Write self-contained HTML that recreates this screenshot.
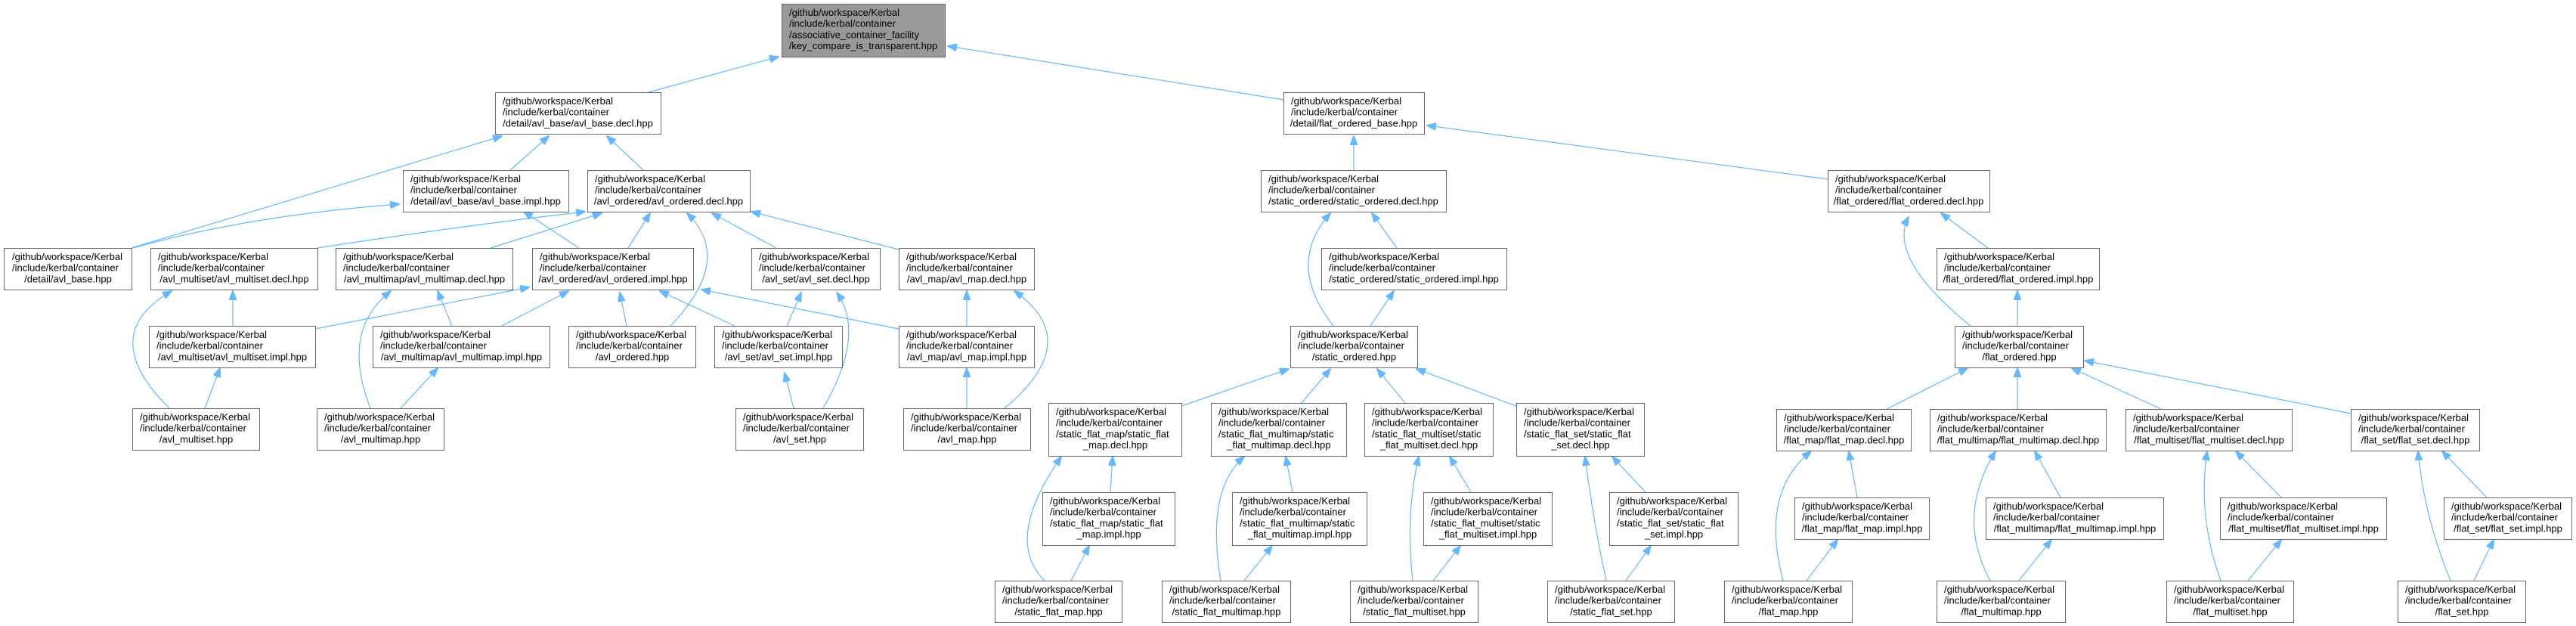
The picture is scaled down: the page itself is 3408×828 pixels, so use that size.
<!DOCTYPE html>
<html><head><meta charset="utf-8"><style>
html,body{margin:0;padding:0;background:#fff;}
svg{display:block;}
text{font-family:"Liberation Sans",Arial,sans-serif;font-size:13px;fill:#000;}
.n{fill:#fff;stroke:#666;stroke-width:1;}
.r{fill:#999;stroke:#666;stroke-width:1;}
.e{fill:none;stroke:#63b8ff;stroke-width:1.2;}
</style></head><body>
<svg width="3408" height="828" viewBox="0 0 3408 828" xmlns="http://www.w3.org/2000/svg">
<defs><marker id="a" markerUnits="userSpaceOnUse" markerWidth="13" markerHeight="10" refX="12" refY="5" orient="auto"><path d="M0,0 L13,5 L0,10 z" fill="#63b8ff" stroke="#63b8ff"/></marker></defs>
<g class="edges">
<path class="e" marker-end="url(#a)" d="M858,122 L1030,75"/>
<path class="e" marker-end="url(#a)" d="M1698,132 L1254,61"/>
<path class="e" marker-end="url(#a)" d="M174,328 L664,180"/>
<path class="e" marker-end="url(#a)" d="M675,225 L726,180"/>
<path class="e" marker-end="url(#a)" d="M851,225 L803,180"/>
<path class="e" marker-end="url(#a)" d="M176,328 Q330,285 528,270"/>
<path class="e" marker-end="url(#a)" d="M420,328 Q600,300 774,280"/>
<path class="e" marker-end="url(#a)" d="M649,328 L796,282"/>
<path class="e" marker-end="url(#a)" d="M831,328 L860,282"/>
<path class="e" marker-end="url(#a)" d="M887,431 Q972,343 909,282"/>
<path class="e" marker-end="url(#a)" d="M1027,328 L942,282"/>
<path class="e" marker-end="url(#a)" d="M1189,330 L994,280"/>
<path class="e" marker-end="url(#a)" d="M766,328 L693,280"/>
<path class="e" marker-end="url(#a)" d="M308,431 L308,385"/>
<path class="e" marker-end="url(#a)" d="M224,540 Q126,443 227,385"/>
<path class="e" marker-end="url(#a)" d="M271,540 L291,487"/>
<path class="e" marker-end="url(#a)" d="M598,431 L579,385"/>
<path class="e" marker-end="url(#a)" d="M490,540 Q450,437 517,385"/>
<path class="e" marker-end="url(#a)" d="M530,540 L579,487"/>
<path class="e" marker-end="url(#a)" d="M417,435 L700,380"/>
<path class="e" marker-end="url(#a)" d="M664,431 L752,385"/>
<path class="e" marker-end="url(#a)" d="M829,431 L820,387"/>
<path class="e" marker-end="url(#a)" d="M972,431 L873,385"/>
<path class="e" marker-end="url(#a)" d="M1189,435 L928,383"/>
<path class="e" marker-end="url(#a)" d="M1041,431 L1060,387"/>
<path class="e" marker-end="url(#a)" d="M1089,540 Q1146,442 1107,387"/>
<path class="e" marker-end="url(#a)" d="M1050,540 L1038,493"/>
<path class="e" marker-end="url(#a)" d="M1279,431 L1279,385"/>
<path class="e" marker-end="url(#a)" d="M1329,540 Q1436,451 1342,385"/>
<path class="e" marker-end="url(#a)" d="M1279,540 L1279,487"/>
<path class="e" marker-end="url(#a)" d="M1791,225 L1791,180"/>
<path class="e" marker-end="url(#a)" d="M2418,237 L1888,166"/>
<path class="e" marker-end="url(#a)" d="M1848,328 L1815,282"/>
<path class="e" marker-end="url(#a)" d="M1764,431 Q1700,349 1760,282"/>
<path class="e" marker-end="url(#a)" d="M1813,431 L1844,385"/>
<path class="e" marker-end="url(#a)" d="M2630,328 L2568,282"/>
<path class="e" marker-end="url(#a)" d="M2607,431 Q2496,341 2525,287"/>
<path class="e" marker-end="url(#a)" d="M2669,431 L2669,385"/>
<path class="e" marker-end="url(#a)" d="M1563,537 L1705,488"/>
<path class="e" marker-end="url(#a)" d="M1722,533 L1760,488"/>
<path class="e" marker-end="url(#a)" d="M1859,533 L1822,488"/>
<path class="e" marker-end="url(#a)" d="M2006,537 L1874,488"/>
<path class="e" marker-end="url(#a)" d="M1469,651 L1472,604"/>
<path class="e" marker-end="url(#a)" d="M1382,768 Q1327,714 1404,604"/>
<path class="e" marker-end="url(#a)" d="M1417,768 L1441,722"/>
<path class="e" marker-end="url(#a)" d="M1710,651 L1701,604"/>
<path class="e" marker-end="url(#a)" d="M1615,768 Q1595,648 1646,604"/>
<path class="e" marker-end="url(#a)" d="M1646,768 L1683,722"/>
<path class="e" marker-end="url(#a)" d="M1946,651 L1918,604"/>
<path class="e" marker-end="url(#a)" d="M1869,768 Q1859,680 1877,604"/>
<path class="e" marker-end="url(#a)" d="M1896,768 L1932,722"/>
<path class="e" marker-end="url(#a)" d="M2177,651 L2133,604"/>
<path class="e" marker-end="url(#a)" d="M2125,768 Q2108,690 2097,604"/>
<path class="e" marker-end="url(#a)" d="M2151,768 L2184,722"/>
<path class="e" marker-end="url(#a)" d="M2496,541 L2603,487"/>
<path class="e" marker-end="url(#a)" d="M2669,541 L2669,487"/>
<path class="e" marker-end="url(#a)" d="M2859,541 L2741,487"/>
<path class="e" marker-end="url(#a)" d="M3110,547 L2758,477"/>
<path class="e" marker-end="url(#a)" d="M2457,658 L2446,597"/>
<path class="e" marker-end="url(#a)" d="M2359,768 Q2328,651 2396,597"/>
<path class="e" marker-end="url(#a)" d="M2390,768 L2431,714"/>
<path class="e" marker-end="url(#a)" d="M2726,658 L2692,597"/>
<path class="e" marker-end="url(#a)" d="M2633,768 Q2587,683 2640,597"/>
<path class="e" marker-end="url(#a)" d="M2671,768 L2714,714"/>
<path class="e" marker-end="url(#a)" d="M3018,658 L2958,597"/>
<path class="e" marker-end="url(#a)" d="M2938,768 Q2907,683 2920,597"/>
<path class="e" marker-end="url(#a)" d="M2974,768 L3018,714"/>
<path class="e" marker-end="url(#a)" d="M3290,658 L3231,597"/>
<path class="e" marker-end="url(#a)" d="M3242,768 Q3207,683 3199,597"/>
<path class="e" marker-end="url(#a)" d="M3273,768 L3299,714"/>
</g>

<rect class="r" x="1034.5" y="5.5" width="216" height="70"/>
<text x="1044" y="21">/github/workspace/Kerbal</text>
<text x="1044" y="35.7">/include/kerbal/container</text>
<text x="1044" y="50.4">/associative_container_facility</text>
<text x="1142" y="65.1" text-anchor="middle">/key_compare_is_transparent.hpp</text>

<rect class="n" x="655.5" y="122.5" width="219" height="55"/>
<text x="665" y="138">/github/workspace/Kerbal</text><text x="665" y="152.7">/include/kerbal/container</text><text x="764.5" y="167.4" text-anchor="middle">/detail/avl_base/avl_base.decl.hpp</text>

<rect class="n" x="1698.5" y="122.5" width="186" height="55"/>
<text x="1708" y="138">/github/workspace/Kerbal</text><text x="1708" y="152.7">/include/kerbal/container</text><text x="1791" y="167.4" text-anchor="middle">/detail/flat_ordered_base.hpp</text>

<rect class="n" x="533.5" y="225.5" width="219" height="55"/>
<text x="543" y="241">/github/workspace/Kerbal</text><text x="543" y="255.7">/include/kerbal/container</text><text x="642.5" y="270.4" text-anchor="middle">/detail/avl_base/avl_base.impl.hpp</text>

<rect class="n" x="777.5" y="225.5" width="215" height="55"/>
<text x="787" y="241">/github/workspace/Kerbal</text><text x="787" y="255.7">/include/kerbal/container</text><text x="884.5" y="270.4" text-anchor="middle">/avl_ordered/avl_ordered.decl.hpp</text>

<rect class="n" x="1668.5" y="225.5" width="245" height="55"/>
<text x="1678" y="241">/github/workspace/Kerbal</text><text x="1678" y="255.7">/include/kerbal/container</text><text x="1790.5" y="270.4" text-anchor="middle">/static_ordered/static_ordered.decl.hpp</text>

<rect class="n" x="2418.5" y="225.5" width="214" height="55"/>
<text x="2428" y="241">/github/workspace/Kerbal</text><text x="2428" y="255.7">/include/kerbal/container</text><text x="2525" y="270.4" text-anchor="middle">/flat_ordered/flat_ordered.decl.hpp</text>

<rect class="n" x="5.5" y="328.5" width="169" height="55"/>
<text x="16" y="344">/github/workspace/Kerbal</text><text x="16" y="358.7">/include/kerbal/container</text><text x="90" y="373.4" text-anchor="middle">/detail/avl_base.hpp</text>

<rect class="n" x="199.5" y="328.5" width="221" height="55"/>
<text x="209" y="344">/github/workspace/Kerbal</text><text x="209" y="358.7">/include/kerbal/container</text><text x="310" y="373.4" text-anchor="middle">/avl_multiset/avl_multiset.decl.hpp</text>

<rect class="n" x="444.5" y="328.5" width="234" height="55"/>
<text x="454" y="344">/github/workspace/Kerbal</text><text x="454" y="358.7">/include/kerbal/container</text><text x="561.5" y="373.4" text-anchor="middle">/avl_multimap/avl_multimap.decl.hpp</text>

<rect class="n" x="704.5" y="328.5" width="213" height="55"/>
<text x="714" y="344">/github/workspace/Kerbal</text><text x="714" y="358.7">/include/kerbal/container</text><text x="811" y="373.4" text-anchor="middle">/avl_ordered/avl_ordered.impl.hpp</text>

<rect class="n" x="994.5" y="328.5" width="170" height="55"/>
<text x="1004" y="344">/github/workspace/Kerbal</text><text x="1004" y="358.7">/include/kerbal/container</text><text x="1079.5" y="373.4" text-anchor="middle">/avl_set/avl_set.decl.hpp</text>

<rect class="n" x="1189.5" y="328.5" width="179" height="55"/>
<text x="1199" y="344">/github/workspace/Kerbal</text><text x="1199" y="358.7">/include/kerbal/container</text><text x="1279" y="373.4" text-anchor="middle">/avl_map/avl_map.decl.hpp</text>

<rect class="n" x="1748.5" y="328.5" width="245" height="55"/>
<text x="1758" y="344">/github/workspace/Kerbal</text><text x="1758" y="358.7">/include/kerbal/container</text><text x="1870.5" y="373.4" text-anchor="middle">/static_ordered/static_ordered.impl.hpp</text>

<rect class="n" x="2562.5" y="328.5" width="215" height="55"/>
<text x="2572" y="344">/github/workspace/Kerbal</text><text x="2572" y="358.7">/include/kerbal/container</text><text x="2670" y="373.4" text-anchor="middle">/flat_ordered/flat_ordered.impl.hpp</text>

<rect class="n" x="197.5" y="431.5" width="220" height="55"/>
<text x="207" y="447">/github/workspace/Kerbal</text><text x="207" y="461.7">/include/kerbal/container</text><text x="307.5" y="476.4" text-anchor="middle">/avl_multiset/avl_multiset.impl.hpp</text>

<rect class="n" x="493.5" y="431.5" width="234" height="55"/>
<text x="503" y="447">/github/workspace/Kerbal</text><text x="503" y="461.7">/include/kerbal/container</text><text x="610.5" y="476.4" text-anchor="middle">/avl_multimap/avl_multimap.impl.hpp</text>

<rect class="n" x="752.5" y="431.5" width="168" height="55"/>
<text x="762" y="447">/github/workspace/Kerbal</text><text x="762" y="461.7">/include/kerbal/container</text><text x="836.5" y="476.4" text-anchor="middle">/avl_ordered.hpp</text>

<rect class="n" x="945.5" y="431.5" width="169" height="55"/>
<text x="955" y="447">/github/workspace/Kerbal</text><text x="955" y="461.7">/include/kerbal/container</text><text x="1030" y="476.4" text-anchor="middle">/avl_set/avl_set.impl.hpp</text>

<rect class="n" x="1189.5" y="431.5" width="179" height="55"/>
<text x="1199" y="447">/github/workspace/Kerbal</text><text x="1199" y="461.7">/include/kerbal/container</text><text x="1279" y="476.4" text-anchor="middle">/avl_map/avl_map.impl.hpp</text>

<rect class="n" x="1707.5" y="431.5" width="168" height="55"/>
<text x="1717" y="447">/github/workspace/Kerbal</text><text x="1717" y="461.7">/include/kerbal/container</text><text x="1791.5" y="476.4" text-anchor="middle">/static_ordered.hpp</text>

<rect class="n" x="2586.5" y="431.5" width="170" height="55"/>
<text x="2596" y="447">/github/workspace/Kerbal</text><text x="2596" y="461.7">/include/kerbal/container</text><text x="2671.5" y="476.4" text-anchor="middle">/flat_ordered.hpp</text>

<rect class="n" x="175.5" y="540.5" width="168" height="55"/>
<text x="185" y="556">/github/workspace/Kerbal</text><text x="185" y="570.7">/include/kerbal/container</text><text x="259.5" y="585.4" text-anchor="middle">/avl_multiset.hpp</text>

<rect class="n" x="419.5" y="540.5" width="168" height="55"/>
<text x="429" y="556">/github/workspace/Kerbal</text><text x="429" y="570.7">/include/kerbal/container</text><text x="503.5" y="585.4" text-anchor="middle">/avl_multimap.hpp</text>

<rect class="n" x="973.5" y="540.5" width="169" height="55"/>
<text x="983" y="556">/github/workspace/Kerbal</text><text x="983" y="570.7">/include/kerbal/container</text><text x="1058" y="585.4" text-anchor="middle">/avl_set.hpp</text>

<rect class="n" x="1195.5" y="540.5" width="168" height="55"/>
<text x="1205" y="556">/github/workspace/Kerbal</text><text x="1205" y="570.7">/include/kerbal/container</text><text x="1279.5" y="585.4" text-anchor="middle">/avl_map.hpp</text>

<rect class="n" x="1387.5" y="533.5" width="176" height="70"/>
<text x="1397" y="549">/github/workspace/Kerbal</text><text x="1397" y="563.7">/include/kerbal/container</text><text x="1397" y="578.4">/static_flat_map/static_flat</text><text x="1475.5" y="593.1" text-anchor="middle">_map.decl.hpp</text>

<rect class="n" x="1602.5" y="533.5" width="179" height="70"/>
<text x="1612" y="549">/github/workspace/Kerbal</text><text x="1612" y="563.7">/include/kerbal/container</text><text x="1612" y="578.4">/static_flat_multimap/static</text><text x="1692" y="593.1" text-anchor="middle">_flat_multimap.decl.hpp</text>

<rect class="n" x="1805.5" y="533.5" width="170" height="70"/>
<text x="1815" y="549">/github/workspace/Kerbal</text><text x="1815" y="563.7">/include/kerbal/container</text><text x="1815" y="578.4">/static_flat_multiset/static</text><text x="1890.5" y="593.1" text-anchor="middle">_flat_multiset.decl.hpp</text>

<rect class="n" x="2006.5" y="533.5" width="169" height="70"/>
<text x="2016" y="549">/github/workspace/Kerbal</text><text x="2016" y="563.7">/include/kerbal/container</text><text x="2016" y="578.4">/static_flat_set/static_flat</text><text x="2091" y="593.1" text-anchor="middle">_set.decl.hpp</text>

<rect class="n" x="2350.5" y="541.5" width="178" height="55"/>
<text x="2360" y="557">/github/workspace/Kerbal</text><text x="2360" y="571.7">/include/kerbal/container</text><text x="2439.5" y="586.4" text-anchor="middle">/flat_map/flat_map.decl.hpp</text>

<rect class="n" x="2553.5" y="541.5" width="233" height="55"/>
<text x="2563" y="557">/github/workspace/Kerbal</text><text x="2563" y="571.7">/include/kerbal/container</text><text x="2670" y="586.4" text-anchor="middle">/flat_multimap/flat_multimap.decl.hpp</text>

<rect class="n" x="2812.5" y="541.5" width="220" height="55"/>
<text x="2822" y="557">/github/workspace/Kerbal</text><text x="2822" y="571.7">/include/kerbal/container</text><text x="2922.5" y="586.4" text-anchor="middle">/flat_multiset/flat_multiset.decl.hpp</text>

<rect class="n" x="3110.5" y="541.5" width="170" height="55"/>
<text x="3120" y="557">/github/workspace/Kerbal</text><text x="3120" y="571.7">/include/kerbal/container</text><text x="3195.5" y="586.4" text-anchor="middle">/flat_set/flat_set.decl.hpp</text>

<rect class="n" x="1379.5" y="651.5" width="175" height="70"/>
<text x="1389" y="667">/github/workspace/Kerbal</text><text x="1389" y="681.7">/include/kerbal/container</text><text x="1389" y="696.4">/static_flat_map/static_flat</text><text x="1467" y="711.1" text-anchor="middle">_map.impl.hpp</text>

<rect class="n" x="1630.5" y="651.5" width="178" height="70"/>
<text x="1640" y="667">/github/workspace/Kerbal</text><text x="1640" y="681.7">/include/kerbal/container</text><text x="1640" y="696.4">/static_flat_multimap/static</text><text x="1719.5" y="711.1" text-anchor="middle">_flat_multimap.impl.hpp</text>

<rect class="n" x="1883.5" y="651.5" width="170" height="70"/>
<text x="1893" y="667">/github/workspace/Kerbal</text><text x="1893" y="681.7">/include/kerbal/container</text><text x="1893" y="696.4">/static_flat_multiset/static</text><text x="1968.5" y="711.1" text-anchor="middle">_flat_multiset.impl.hpp</text>

<rect class="n" x="2129.5" y="651.5" width="170" height="70"/>
<text x="2139" y="667">/github/workspace/Kerbal</text><text x="2139" y="681.7">/include/kerbal/container</text><text x="2139" y="696.4">/static_flat_set/static_flat</text><text x="2214.5" y="711.1" text-anchor="middle">_set.impl.hpp</text>

<rect class="n" x="2374.5" y="658.5" width="178" height="55"/>
<text x="2384" y="674">/github/workspace/Kerbal</text><text x="2384" y="688.7">/include/kerbal/container</text><text x="2463.5" y="703.4" text-anchor="middle">/flat_map/flat_map.impl.hpp</text>

<rect class="n" x="2627.5" y="658.5" width="235" height="55"/>
<text x="2637" y="674">/github/workspace/Kerbal</text><text x="2637" y="688.7">/include/kerbal/container</text><text x="2745" y="703.4" text-anchor="middle">/flat_multimap/flat_multimap.impl.hpp</text>

<rect class="n" x="2937.5" y="658.5" width="220" height="55"/>
<text x="2947" y="674">/github/workspace/Kerbal</text><text x="2947" y="688.7">/include/kerbal/container</text><text x="3047.5" y="703.4" text-anchor="middle">/flat_multiset/flat_multiset.impl.hpp</text>

<rect class="n" x="3233.5" y="658.5" width="169" height="55"/>
<text x="3243" y="674">/github/workspace/Kerbal</text><text x="3243" y="688.7">/include/kerbal/container</text><text x="3318" y="703.4" text-anchor="middle">/flat_set/flat_set.impl.hpp</text>

<rect class="n" x="1316.5" y="768.5" width="168" height="55"/>
<text x="1326" y="784">/github/workspace/Kerbal</text><text x="1326" y="798.7">/include/kerbal/container</text><text x="1400.5" y="813.4" text-anchor="middle">/static_flat_map.hpp</text>

<rect class="n" x="1537.5" y="768.5" width="170" height="55"/>
<text x="1547" y="784">/github/workspace/Kerbal</text><text x="1547" y="798.7">/include/kerbal/container</text><text x="1622.5" y="813.4" text-anchor="middle">/static_flat_multimap.hpp</text>

<rect class="n" x="1786.5" y="768.5" width="169" height="55"/>
<text x="1796" y="784">/github/workspace/Kerbal</text><text x="1796" y="798.7">/include/kerbal/container</text><text x="1871" y="813.4" text-anchor="middle">/static_flat_multiset.hpp</text>

<rect class="n" x="2047.5" y="768.5" width="168" height="55"/>
<text x="2057" y="784">/github/workspace/Kerbal</text><text x="2057" y="798.7">/include/kerbal/container</text><text x="2131.5" y="813.4" text-anchor="middle">/static_flat_set.hpp</text>

<rect class="n" x="2281.5" y="768.5" width="169" height="55"/>
<text x="2291" y="784">/github/workspace/Kerbal</text><text x="2291" y="798.7">/include/kerbal/container</text><text x="2366" y="813.4" text-anchor="middle">/flat_map.hpp</text>

<rect class="n" x="2562.5" y="768.5" width="170" height="55"/>
<text x="2572" y="784">/github/workspace/Kerbal</text><text x="2572" y="798.7">/include/kerbal/container</text><text x="2647.5" y="813.4" text-anchor="middle">/flat_multimap.hpp</text>

<rect class="n" x="2866.5" y="768.5" width="168" height="55"/>
<text x="2876" y="784">/github/workspace/Kerbal</text><text x="2876" y="798.7">/include/kerbal/container</text><text x="2950.5" y="813.4" text-anchor="middle">/flat_multiset.hpp</text>

<rect class="n" x="3172.5" y="768.5" width="169" height="55"/>
<text x="3182" y="784">/github/workspace/Kerbal</text><text x="3182" y="798.7">/include/kerbal/container</text><text x="3257" y="813.4" text-anchor="middle">/flat_set.hpp</text>
</svg>
</body></html>
